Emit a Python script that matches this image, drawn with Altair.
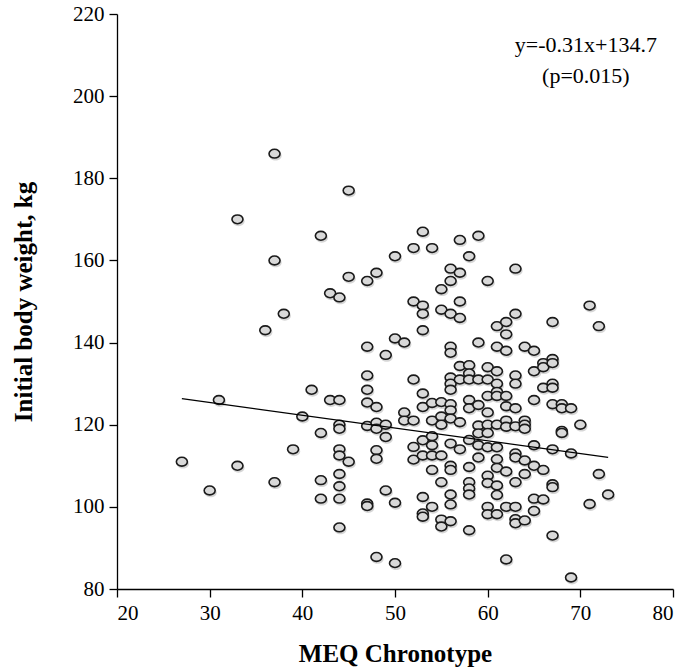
import altair as alt
import pandas as pd

# MEQ chronotype score for each participant (grouped by score)
meq = (
    [27] * 1 + [30] * 1 + [31] * 1 + [33] * 2 + [36] * 1 + [37] * 3 + [38] * 1
    + [39] * 1 + [40] * 1 + [41] * 1 + [42] * 4 + [43] * 2 + [44] * 10 + [45] * 3
    + [47] * 8 + [48] * 7 + [49] * 4 + [50] * 4 + [51] * 3 + [52] * 6 + [53] * 11
    + [54] * 8 + [55] * 9 + [56] * 17 + [57] * 8 + [58] * 12 + [59] * 8 + [60] * 12
    + [61] * 13 + [62] * 10 + [63] * 12 + [64] * 7 + [65] * 7 + [66] * 5 + [67] * 10
    + [68] * 4 + [69] * 3 + [70] * 1 + [71] * 2 + [72] * 2 + [73] * 1
)

# Initial body weight (kg), in the same order as the scores above
weight = [
    111,
    104,
    126,
    170, 110,
    143,
    186, 160, 106,
    147,
    114,
    122,
    128.5,
    166, 118, 106.5, 102,
    152, 126,
    151, 126, 120, 119, 114, 112.5, 108, 105, 102, 95,
    177, 156, 111,
    155, 139, 132, 128.5, 125.4, 119.7, 100.8, 100.2,
    157, 124.3, 120.5, 119, 113.8, 111.7, 87.8,
    137, 120, 117, 104,
    161, 141, 101, 86.3,
    140, 123, 121,
    163, 150, 131, 121, 114.6, 111.5,
    167, 149, 147, 143, 127.6, 124.3, 116.2, 112.5, 102.4, 98.4, 97.6,
    163, 125.3, 121, 117.2, 115, 112.5, 109, 100,
    153, 148, 125.5, 122, 120, 112.5, 106, 96.9, 95.2,
    158, 155, 147, 139, 137.5, 131.5, 130, 128.5, 125, 123.5, 121.5, 115.4, 110, 109, 103, 100.6, 96.5,
    165, 157, 150, 146, 134.3, 131, 120.6, 114,
    161, 134.5, 132.5, 131, 126, 124, 116.3, 109.7, 106, 104.5, 103, 94.3,
    166, 140, 131, 124.8, 119.8, 117.9, 115, 112,
    155, 134, 131, 127, 123, 120, 118, 114.5, 107.6, 105.8, 100, 98.2,
    144, 139, 133, 130, 128, 127, 120, 114.5, 111.6, 109.5, 105.2, 102.9, 98.2,
    145, 142, 138, 127, 124.5, 121, 119.5, 108.6, 100, 87.2,
    158, 147, 132, 130, 124, 119.6, 113, 112, 106, 100, 97, 96,
    139, 121, 120, 119, 111.3, 108, 96.7,
    138, 133, 126, 115, 110, 102, 99,
    135, 134, 129, 109, 101.8,
    145, 136, 135, 130, 129, 125, 114, 105.5, 104.8, 93,
    125, 124, 118.5, 118,
    124, 113, 82.8,
    120,
    149, 100.7,
    144, 108,
    103,
]

# Fitted regression line and its annotation
slope = -0.31
intercept = 134.7
p_value = "0.015"
fit_range = [27, 73]
note_pos = [70.6, 212.5]

x_ticks = [20, 30, 40, 50, 60, 70, 80]
y_ticks = [80, 100, 120, 140, 160, 180, 200, 220]

points = pd.DataFrame({"meq": meq, "weight": weight})
fit = pd.DataFrame({"meq": fit_range,
                    "weight": [slope * v + intercept for v in fit_range]})
note = pd.DataFrame({"meq": [note_pos[0]], "weight": [note_pos[1]],
                     "label": [f"y={slope}x+{intercept}\n(p={p_value})"]})

SERIF = "Liberation Serif"
ELLIPSE = "M-1,0A1,0.8,0,1,0,1,0A1,0.8,0,1,0,-1,0Z"

x_enc = alt.X("meq:Q",
              scale=alt.Scale(domain=[20, 80], nice=False, zero=False),
              axis=alt.Axis(values=x_ticks, title="MEQ Chronotype",
                            titlePadding=18))
y_enc = alt.Y("weight:Q",
              scale=alt.Scale(domain=[80, 220], nice=False, zero=False),
              axis=alt.Axis(values=y_ticks, title="Initial body weight, kg",
                            titlePadding=36))

shadow = alt.Chart(points).mark_point(
    shape=ELLIPSE, size=150, filled=True, color="#000000",
    opacity=0.16, xOffset=1, yOffset=2,
).encode(x=x_enc, y=y_enc)

dots = alt.Chart(points).mark_point(
    shape=ELLIPSE, size=121, filled=True, fill="#d9d9d9", fillOpacity=1,
    stroke="#1a1a1a", strokeWidth=1.6, opacity=1,
).encode(x=x_enc, y=y_enc)

trend = alt.Chart(fit).mark_line(color="#000000", strokeWidth=1.2).encode(
    x=x_enc, y=y_enc)

label = alt.Chart(note).mark_text(
    font=SERIF, fontSize=22, color="#000000", align="center",
    baseline="middle", lineBreak="\n", lineHeight=31,
).encode(x=x_enc, y=y_enc, text="label:N")

chart = (
    alt.layer(shadow, dots, trend, label)
    .properties(
        width=556, height=575,
        autosize=alt.AutoSizeParams(type="none"),
        padding={"left": 117, "top": 14, "right": 17, "bottom": 83},
    )
    .configure_view(stroke=None)
    .configure_axis(
        grid=False,
        domainColor="#000000", domainWidth=1.3,
        tickColor="#000000", tickWidth=1.3, tickSize=8,
        labelFont=SERIF, labelFontSize=21, labelColor="#000000",
        labelPadding=5,
        titleFont=SERIF, titleFontSize=25, titleFontWeight="bold",
        titleColor="#000000",
    )
)

chart.save("out.html", embed_options={"renderer": "svg", "actions": False})
